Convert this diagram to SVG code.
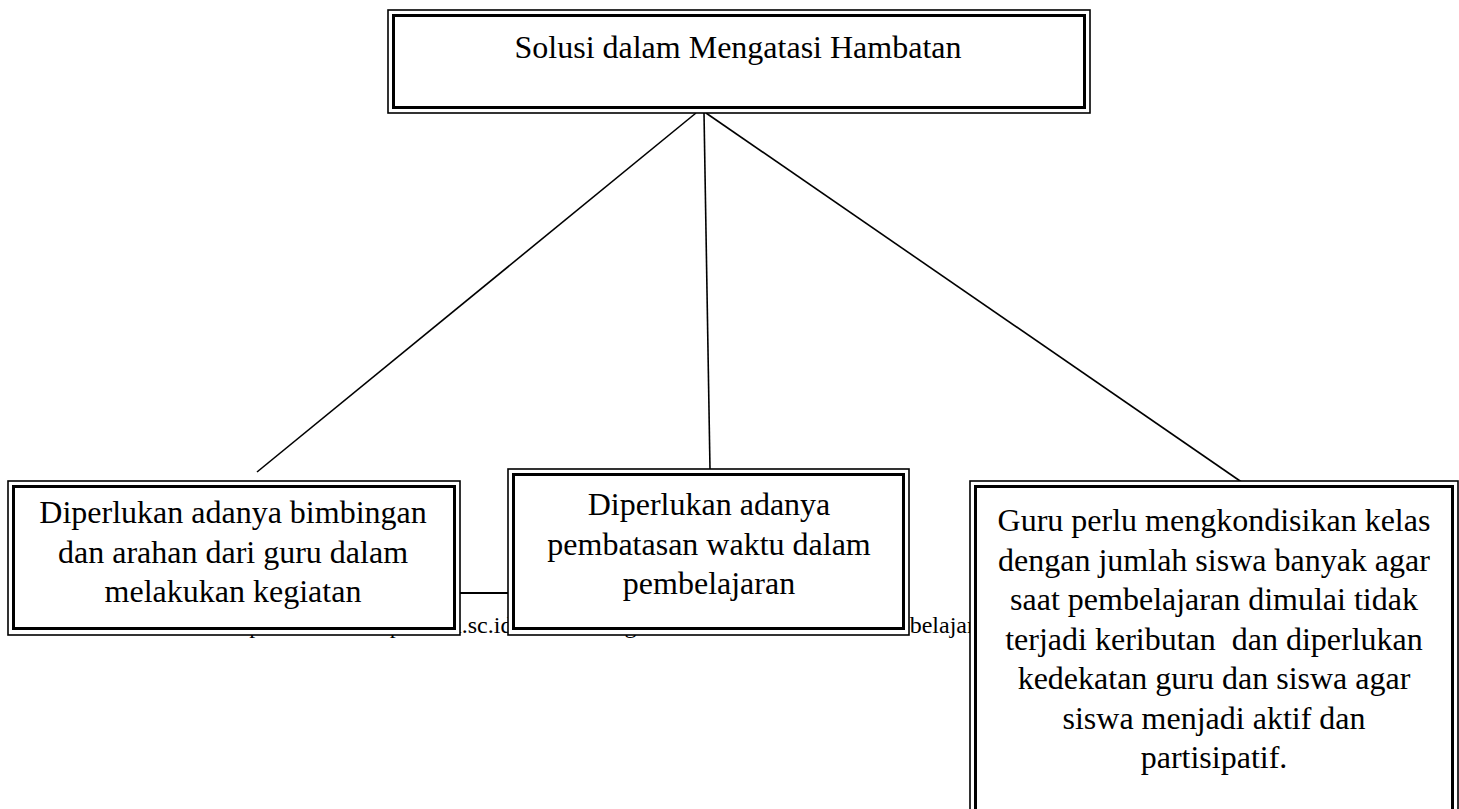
<svg xmlns="http://www.w3.org/2000/svg" width="1459" height="809" viewBox="0 0 1459 809">
<style>
.outer{fill:#fff;stroke:#000;stroke-width:1.6}
.inner{fill:none;stroke:#000;stroke-width:3}
.lbl{font-family:"Liberation Serif","Times New Roman",serif;font-size:32px;fill:#000;text-anchor:middle}
.wm{font-family:"Liberation Serif","Times New Roman",serif;font-size:24px;fill:#000}
.conn{stroke:#000;stroke-width:1.6;fill:none}
</style>
<rect width="1459" height="809" fill="#fff"/>
<g id="watermark">
<text class="wm" x="224" y="633">https://www.kompasiana.sc.id/solusi-mengatasi-</text>
<text class="wm" x="975" y="633" text-anchor="end">hambatan-belajar</text>
</g>
<g id="connectors">
<line class="conn" x1="696" y1="113" x2="257" y2="472"/>
<line class="conn" x1="704" y1="113" x2="710" y2="469"/>
<line class="conn" x1="706" y1="113" x2="1243" y2="483"/>
<line class="conn" x1="456" y1="593" x2="512" y2="593" style="stroke-width:2"/>
</g>
<g id="node-top">
<rect class="outer" x="388" y="10" width="702" height="103"/>
<rect class="inner" x="393.5" y="15.5" width="691" height="92"/>
<text class="lbl" x="738" y="58">Solusi dalam Mengatasi Hambatan</text>
</g>
<g id="node-left">
<rect class="outer" x="8" y="481" width="452" height="154"/>
<rect class="inner" x="13.5" y="486.5" width="441" height="142"/>
<text class="lbl" x="233" y="523">Diperlukan adanya bimbingan</text>
<text class="lbl" x="233" y="562.5">dan arahan dari guru dalam</text>
<text class="lbl" x="233" y="602">melakukan kegiatan</text>
</g>
<g id="node-middle">
<rect class="outer" x="508" y="469" width="401" height="166"/>
<rect class="inner" x="513.5" y="474.5" width="390" height="154"/>
<text class="lbl" x="709" y="515">Diperlukan adanya</text>
<text class="lbl" x="709" y="555">pembatasan waktu dalam</text>
<text class="lbl" x="709" y="594">pembelajaran</text>
</g>
<g id="node-right">
<rect class="outer" x="970" y="481" width="488" height="360"/>
<rect class="inner" x="975.5" y="486.5" width="477" height="360"/>
<text class="lbl" x="1214" y="531">Guru perlu mengkondisikan kelas</text>
<text class="lbl" x="1214" y="571">dengan jumlah siswa banyak agar</text>
<text class="lbl" x="1214" y="610">saat pembelajaran dimulai tidak</text>
<text class="lbl" x="1214" y="650" xml:space="preserve">terjadi keributan  dan diperlukan</text>
<text class="lbl" x="1214" y="689">kedekatan guru dan siswa agar</text>
<text class="lbl" x="1214" y="729">siswa menjadi aktif dan</text>
<text class="lbl" x="1214" y="768">partisipatif.</text>
</g>
</svg>
